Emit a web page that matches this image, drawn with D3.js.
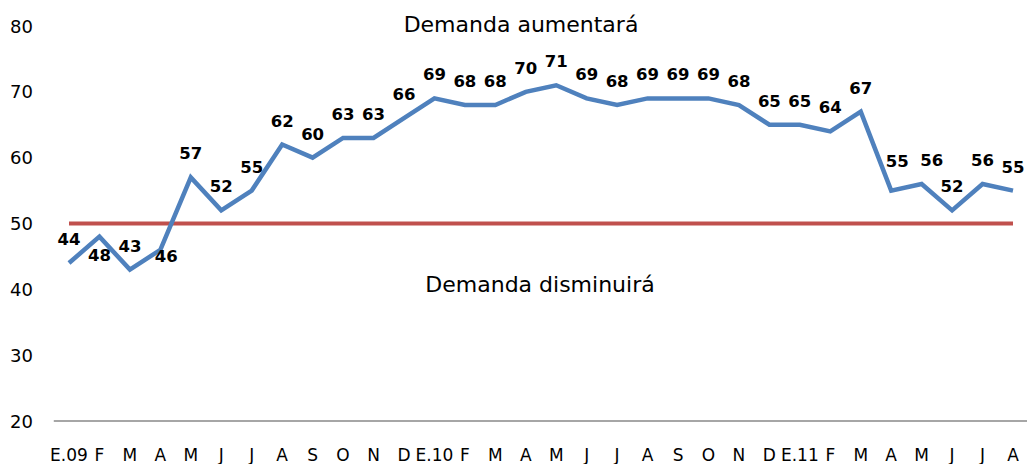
<!DOCTYPE html>
<html>
<head>
<meta charset="utf-8">
<script src="https://cdn.jsdelivr.net/npm/d3@7"></script>
<style>
  html, body { margin: 0; padding: 0; background: #fff; }
  svg { display: block; font-family: "DejaVu Sans", sans-serif; }
</style>
</head>
<body>
<svg id="chart" width="1027" height="464"></svg>
<script>
// months, Jan 2009 .. Aug 2011
const months = ["E.09", "F", "M", "A", "M", "J", "J", "A", "S", "O", "N", "D",
  "E.10", "F", "M", "A", "M", "J", "J", "A", "S", "O", "N", "D",
  "E.11", "F", "M", "A", "M", "J", "J", "A"];
const demand = [44, 48, 43, 46, 57, 52, 55, 62, 60, 63, 63, 66,
  69, 68, 68, 70, 71, 69, 68, 69, 69, 69, 68, 65,
  65, 64, 67, 55, 56, 52, 56, 55];
const threshold = 50;
const yTicks = [20, 30, 40, 50, 60, 70, 80];
const upperText = "Demanda aumentará";
const lowerText = "Demanda disminuirá";

// manual nudges for a few value labels (index -> [dx, dy])
const labelNudge = { 1: [0, 42], 3: [6, 30], 27: [6, -6], 28: [10, 0] };

const svg = d3.select("#chart");

const x = d3.scalePoint()
  .domain(d3.range(months.length))
  .range([69, 1013]);

const y = d3.scaleLinear()
  .domain([20, 80])
  .range([421, 26]);

// y tick labels (no axis line)
svg.append("g")
  .selectAll("text")
  .data(yTicks)
  .join("text")
  .attr("x", 33)
  .attr("y", d => y(d) + 6.5)
  .attr("text-anchor", "end")
  .style("font-size", "18px")
  .style("fill", "#000")
  .text(d => d);

// x axis line at the bottom
const step = x.step();
svg.append("line")
  .attr("x1", x(0) - step / 2)
  .attr("x2", x(months.length - 1) + step / 2)
  .attr("y1", y(20))
  .attr("y2", y(20))
  .style("stroke", "#888")
  .style("stroke-width", 1.5);

// x category labels
svg.append("g")
  .selectAll("text")
  .data(months)
  .join("text")
  .attr("x", (d, i) => x(i))
  .attr("y", 461)
  .attr("text-anchor", "middle")
  .style("font-size", "17px")
  .style("fill", "#000")
  .text(d => d);

// threshold line
svg.append("line")
  .attr("x1", x(0))
  .attr("x2", x(months.length - 1))
  .attr("y1", y(threshold))
  .attr("y2", y(threshold))
  .style("stroke", "#C0504D")
  .style("stroke-width", 4);

// demand series
const line = d3.line()
  .x((d, i) => x(i))
  .y(d => y(d));

svg.append("path")
  .datum(demand)
  .attr("d", line)
  .style("fill", "none")
  .style("stroke", "#4F81BD")
  .style("stroke-width", 4.5)
  .style("stroke-linejoin", "miter");

// value labels
svg.append("g")
  .selectAll("text")
  .data(demand)
  .join("text")
  .attr("x", (d, i) => x(i) + (labelNudge[i] ? labelNudge[i][0] : 0))
  .attr("y", (d, i) => y(d) - 18 + (labelNudge[i] ? labelNudge[i][1] : 0))
  .attr("text-anchor", "middle")
  .style("font-size", "16.5px")
  .style("font-weight", "bold")
  .style("fill", "#000")
  .text(d => d);

// region annotations
svg.append("text")
  .attr("x", 521)
  .attr("y", 32)
  .attr("text-anchor", "middle")
  .style("font-size", "22px")
  .style("fill", "#000")
  .text(upperText);

svg.append("text")
  .attr("x", 540)
  .attr("y", 292)
  .attr("text-anchor", "middle")
  .style("font-size", "22px")
  .style("fill", "#000")
  .text(lowerText);
</script>
</body>
</html>
